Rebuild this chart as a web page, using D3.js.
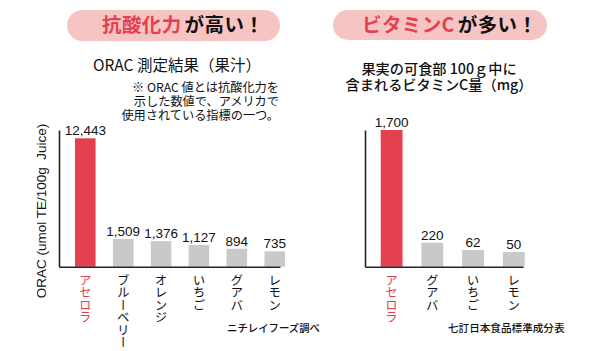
<!DOCTYPE html>
<html><head><meta charset="utf-8">
<script src="https://cdn.jsdelivr.net/npm/d3@7"></script>
<style>
html,body{margin:0;padding:0;background:#fff;}
svg{display:block;}
.jp{font-family:"Noto Sans CJK JP","Noto Sans",sans-serif;}
.num{font-family:"Liberation Sans",Arial,sans-serif;}
</style>
</head><body>
<svg id="c" width="615" height="351"></svg>
<script>
// ---- data ----
const oracCategories = ["アセロラ","ブルーベリー","オレンジ","いちご","グアバ","レモン"];
const oracValues = [12443, 1509, 1376, 1127, 894, 735];
const oracLabels = ["12,443","1,509","1,376","1,127","894","735"];
const vcCategories = ["アセロラ","グアバ","いちご","レモン"];
const vcValues = [1700, 220, 62, 50];
const vcLabels = ["1,700","220","62","50"];

const RED = "#e5404f", GRAY = "#c9c9c9", PINK = "#f7c4c4", INK = "#111";
const svg = d3.select("#c");

function pill(x, y, w, h, red, black, textX, textY) {
  svg.append("rect").attr("x", x).attr("y", y).attr("width", w).attr("height", h)
    .attr("rx", h/2).attr("fill", PINK);
  const t = svg.append("text").attr("class","jp").attr("x", textX).attr("y", textY)
    .attr("font-size", 19.5).attr("font-weight", 700).attr("letter-spacing", 0.4);
  t.append("tspan").attr("fill", RED).text(red);
  t.append("tspan").attr("fill", INK).attr("dx", 3).text(black);
}

function chart(opts) {
  const {cats, vals, labels, x0, step, bw, axisX, axisRight, base, top, yScale} = opts;
  const x = d3.scaleBand().domain(cats).range([x0, x0 + step*cats.length]).paddingInner((step-bw)/step).paddingOuter(0).align(0);
  const g = svg.append("g");
  g.selectAll("rect.bar").data(vals).join("rect")
    .attr("x", (d,i) => x(cats[i]))
    .attr("width", x.bandwidth())
    .attr("y", d => yScale(d))
    .attr("height", d => base - yScale(d))
    .attr("fill", (d,i) => i === 0 ? RED : GRAY);
  g.selectAll("text.val").data(vals).join("text")
    .attr("class","num")
    .attr("x", (d,i) => x(cats[i]) + x.bandwidth()/2)
    .attr("y", d => yScale(d) - 3)
    .attr("text-anchor","middle").attr("font-size", 13.5).attr("fill", INK)
    .text((d,i) => labels[i]);
  const yAx = d3.axisLeft(d3.scaleLinear().domain([0,1]).range([base, top])).ticks(0).tickSize(0).tickSizeOuter(0);
  g.append("g").attr("transform", `translate(${axisX},0)`).call(yAx)
    .call(s => s.select(".domain").attr("stroke", "#222").attr("stroke-width", 1.6));
  const xAx = d3.axisBottom(d3.scaleLinear().domain([0,1]).range([axisX, axisRight])).ticks(0).tickSize(0).tickSizeOuter(0);
  g.append("g").attr("transform", `translate(0,${base})`).call(xAx)
    .call(s => s.select(".domain").attr("stroke", "#222").attr("stroke-width", 1.6));
  g.selectAll("text.cat").data(cats).join("text")
    .attr("class","jp")
    .attr("x", d => x(d) + x.bandwidth()/2)
    .attr("y", base + 7)
    .attr("font-size", 12.5)
    .attr("fill", (d,i) => i === 0 ? RED : INK)
    .style("writing-mode","vertical-rl")
    .style("text-orientation","upright")
    .text(d => d);
}

// ---- left ----
pill(67, 10, 213, 31, "抗酸化力", "が高い！", 102, 32);
svg.append("text").attr("class","jp").attr("x", 177).attr("y", 71).attr("text-anchor","middle")
  .attr("font-size", 15.5).attr("font-weight", 400).attr("fill", INK).text("ORAC 測定結果（果汁）");
const note = ["※ ORAC 値とは抗酸化力を","示した数値で、アメリカで","使用されている指標の一つ。"];
svg.append("g").selectAll("text").data(note).join("text")
  .attr("class","jp").attr("x", 279).attr("y", (d,i) => 92 + i*14.2).attr("text-anchor","end")
  .attr("font-size", 12.2).attr("fill", INK).text(d => d);

const baseL = 266.7;
const yL = d3.scaleLinear().domain([0, 735, 1509, 12443]).range([baseL, baseL-15.4, baseL-27.7, baseL-128.4]);
chart({cats: oracCategories, vals: oracValues, labels: oracLabels, x0: 75, step: 35, bw: 19,
  axisX: 59, axisRight: 280, base: baseL, top: 130, yScale: yL});
svg.append("text")
  .attr("transform","translate(46,211) rotate(-90)").attr("text-anchor","middle")
  .attr("font-size", 13.5).attr("fill", INK)
  .style("font-family","'Liberation Sans',Arial,sans-serif")
  .style("white-space","pre")
  .text("ORAC (umol TE/100g  Juice)");
svg.append("text").attr("class","jp").attr("x", 227).attr("y", 332)
  .attr("font-size", 10.4).attr("font-weight", 500).attr("fill", INK).text("ニチレイフーズ調べ");

// ---- right ----
pill(333, 10, 214, 30, "ビタミンC", "が多い！", 362, 32);
svg.append("text").attr("class","jp").attr("x", 439).attr("y", 74).attr("text-anchor","middle")
  .attr("font-size", 14.2).attr("font-weight", 500).attr("fill", INK).text("果実の可食部 100ｇ中に");
svg.append("text").attr("class","jp").attr("x", 439).attr("y", 90).attr("text-anchor","middle")
  .attr("font-size", 14.2).attr("font-weight", 500).attr("fill", INK).text("含まれるビタミンC量（mg）");

const baseR = 266.7;
const yR = d3.scaleLinear().domain([0, 50, 62, 220, 1700]).range([baseR, baseR-14.7, baseR-16.7, baseR-24, baseR-136.7]);
chart({cats: vcCategories, vals: vcValues, labels: vcLabels, x0: 380.7, step: 36, bw: 19.3,
  axisX: 365, axisRight: 523, base: baseR, top: 130, yScale: yR});
svg.append("text").attr("class","jp").attr("x", 448).attr("y", 332)
  .attr("font-size", 10.6).attr("font-weight", 500).attr("fill", INK).text("七訂日本食品標準成分表");
</script>
</body></html>
